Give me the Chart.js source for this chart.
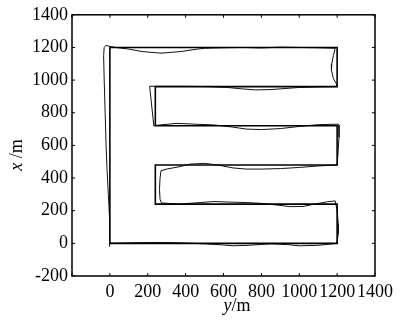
<!DOCTYPE html>
<html>
<head>
<meta charset="utf-8">
<script src="https://cdn.jsdelivr.net/npm/chart.js@4/dist/chart.umd.min.js"></script>
<style>
  html, body { margin: 0; padding: 0; background: #fff; }
  #wrap { width: 417px; height: 323px; }
</style>
</head>
<body>
<div id="wrap"><canvas id="path"></canvas></div>
<script>
// planned E-shaped route: y (horizontal) and x (vertical), metres
var refY = [0, 0, 1200, 1200, 240, 240, 1200, 1200, 240, 240, 1200, 1200, 0];
var refX = [0, 1200, 1200, 960, 960, 720, 720, 480, 480, 240, 240, 0, 0];

// tracked route
var trackY = [0, 0, -3, -8, -15, -20, -25, -30, -33, -30, -22, -5, 30, 100, 170, 270, 375, 450, 500, 600, 700, 800, 900, 1000, 1100, 1190,
  1180, 1172, 1170, 1180, 1195, 1200,
  1100, 1000, 920, 850, 770, 700, 620, 520, 400, 300, 210,
  232, 240, 350, 450, 550, 650, 720, 800, 900, 1000, 1100, 1205,
  1210, 1210, 1205, 1200,
  1100, 1000, 900, 800, 720, 650, 580, 500, 420, 370, 300, 270,
  265, 262, 265, 272,
  355, 480, 550, 650, 720, 800, 880, 950, 1020, 1080, 1150, 1190,
  1200, 1206, 1206, 1200, 1200,
  1100, 1000, 940, 850, 730, 650, 600, 500, 400, 300, 200, 100, 0];
var trackX = [-20, 0, 150, 300, 450, 600, 800, 1000, 1150, 1200, 1212, 1208, 1200, 1190, 1175, 1165, 1175, 1188, 1195, 1198, 1200, 1197, 1202, 1200, 1198, 1195,
  1150, 1100, 1060, 1010, 980, 960,
  958, 955, 948, 942, 940, 946, 955, 960, 962, 962, 962,
  720, 722, 735, 730, 725, 712, 700, 697, 703, 716, 727, 730,
  725, 650, 560, 480,
  474, 465, 458, 455, 455, 462, 478, 490, 485, 470, 455, 445,
  400, 330, 270, 248,
  240, 250, 256, 252, 250, 245, 235, 225, 226, 240, 255, 260,
  200, 120, 60, 10, 0,
  -12, -15, -8, -3, -12, -15, -10, -3, 2, 5, 5, 3, 0];

var axisMin = -200, axisMax = 1400, axisStep = 200;

function toPoints(hs, vs) {
  return hs.map(function (h, i) { return { x: h, y: vs[i] }; });
}

var serif = '"Liberation Serif", "DejaVu Serif", serif';

// box frame, inward ticks and the mixed italic axis titles
var framePlugin = {
  id: 'frame',
  afterDraw: function (chart) {
    var c = chart.ctx, a = chart.chartArea;
    var xs = chart.scales.x, ys = chart.scales.y;
    c.save();
    c.strokeStyle = '#000';
    c.lineWidth = 1.5;
    c.strokeRect(a.left, a.top, a.right - a.left, a.bottom - a.top);
    c.lineWidth = 1;
    xs.ticks.forEach(function (t) {
      var px = xs.getPixelForValue(t.value);
      c.beginPath();
      c.moveTo(px, a.bottom); c.lineTo(px, a.bottom - 3);
      c.moveTo(px, a.top); c.lineTo(px, a.top + 3);
      c.stroke();
    });
    ys.ticks.forEach(function (t) {
      var py = ys.getPixelForValue(t.value);
      c.beginPath();
      c.moveTo(a.left, py); c.lineTo(a.left + 3, py);
      c.moveTo(a.right, py); c.lineTo(a.right - 3, py);
      c.stroke();
    });

    c.fillStyle = '#000';
    c.textBaseline = 'middle';
    function mixed(parts, cx, cy) {
      var w = 0;
      parts.forEach(function (p) { c.font = p[1] + ' 18px ' + serif; w += c.measureText(p[0]).width; });
      var x0 = cx - w / 2;
      c.textAlign = 'left';
      parts.forEach(function (p) {
        c.font = p[1] + ' 18px ' + serif;
        c.fillText(p[0], x0, cy);
        x0 += c.measureText(p[0]).width;
      });
    }
    mixed([['y', 'italic'], ['/m', 'normal']], 237, 306);
    c.save();
    c.translate(17, 155);
    c.rotate(-Math.PI / 2);
    mixed([['x', 'italic'], [' /m', 'normal']], 0, 0);
    c.restore();
    c.restore();
  }
};

var ctx = document.getElementById('path').getContext('2d');
var myChart = new Chart(ctx, {
  type: 'scatter',
  data: {
    datasets: [{
      label: 'planned',
      data: toPoints(refY, refX),
      showLine: true,
      borderColor: '#000',
      borderWidth: 1.6,
      pointRadius: 0,
      fill: false
    }, {
      label: 'tracked',
      data: toPoints(trackY, trackX),
      showLine: true,
      borderColor: '#111',
      borderWidth: 1,
      tension: 0,
      pointRadius: 0,
      fill: false
    }]
  },
  options: {
    responsive: true,
    maintainAspectRatio: false,
    animation: false,
    layout: { padding: { top: 14, right: 42, left: 0, bottom: 0 } },
    plugins: { legend: { display: false }, tooltip: { enabled: false } },
    scales: {
      x: {
        type: 'linear',
        min: axisMin, max: axisMax,
        grid: { display: false, drawTicks: false },
        border: { display: false },
        afterFit: function (s) { s.height = 47; },
        ticks: {
          stepSize: axisStep,
          autoSkip: false,
          maxRotation: 0,
          padding: 5,
          color: '#000',
          font: { family: serif, size: 18 },
          callback: function (v) { return v === axisMin ? '' : String(v); }
        }
      },
      y: {
        type: 'linear',
        min: axisMin, max: axisMax,
        grid: { display: false, drawTicks: false },
        border: { display: false },
        afterFit: function (s) { s.width = 72; },
        ticks: {
          stepSize: axisStep,
          padding: 4,
          color: '#000',
          font: { family: serif, size: 18 },
          callback: function (v) { return String(v); }
        }
      }
    }
  },
  plugins: [framePlugin]
});
</script>
</body>
</html>
